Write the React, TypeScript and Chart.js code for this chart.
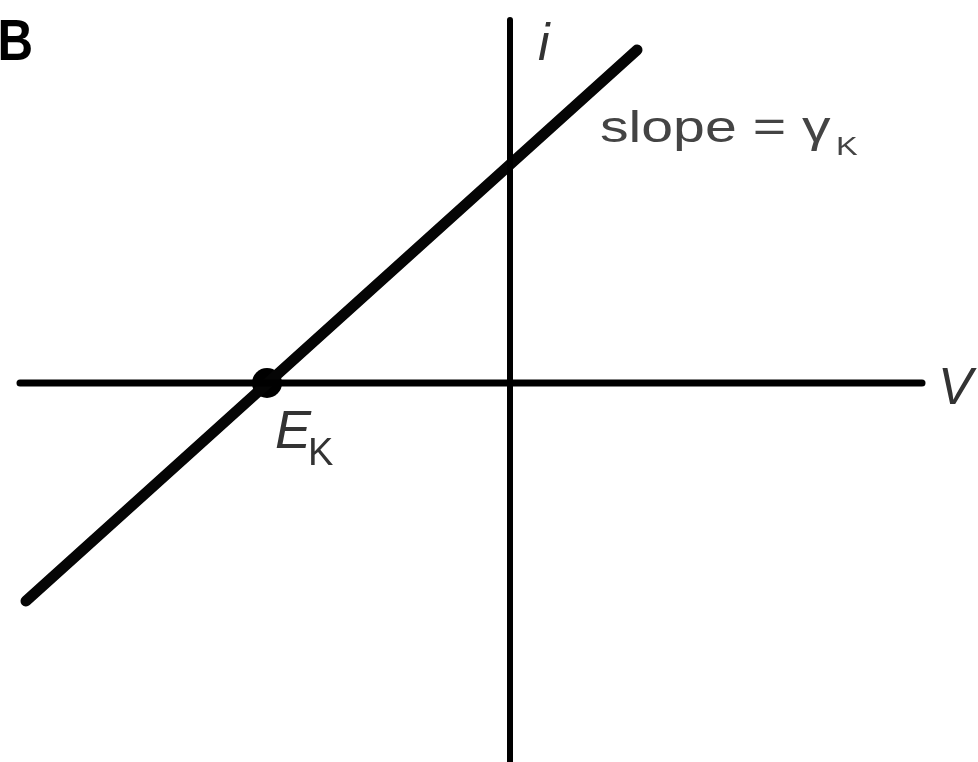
import React, { useEffect, useRef } from "react";
import { Chart, registerables } from "chart.js";

Chart.register(...registerables);

// Data coordinates: origin where the axes cross
const xRange = [-510, 468];
const yRange = [-379, 383];
const hAxisX = [-490, 412];
const vAxisY = [363, -385];
const lineX = [-484, 127];
const lineY = [-218, 333];
const reversalPotential = [-243, 0];

const labelPlugin = {
  id: "labels",
  afterDatasetsDraw(chart: any) {
    const { ctx, scales } = chart;
    const px = (v: number) => scales.x.getPixelForValue(v);
    const py = (v: number) => scales.y.getPixelForValue(v);
    const txt = (
      s: string,
      x: number,
      y: number,
      font: string,
      color: string,
      sx = 1,
      align: CanvasTextAlign = "left"
    ) => {
      ctx.save();
      ctx.translate(x, y);
      ctx.scale(sx, 1);
      ctx.font = font;
      ctx.fillStyle = color;
      ctx.textAlign = align;
      ctx.textBaseline = "alphabetic";
      ctx.fillText(s, 0, 0);
      ctx.restore();
    };
    // Panel letter
    txt("B", 33, 60, "bold 58px 'Liberation Sans', Arial, sans-serif", "#000", 0.85, "right");
    // i axis label
    txt("i", px(0) + 28, py(0) - 323, "italic 52px 'Liberation Sans', Arial, sans-serif", "#333");
    // V axis label
    txt("V", px(0) + 428, py(0) + 21, "italic 52px 'Liberation Sans', Arial, sans-serif", "#333");
    // slope label
    txt("slope = γ", px(0) + 90, py(0) - 241, "44px 'Liberation Sans', Arial, sans-serif", "#444", 1.3);
    txt("K", px(0) + 326, py(0) - 228, "25px 'Liberation Sans', Arial, sans-serif", "#444", 1.3);
    // E_K label
    const ex = px(reversalPotential[0]);
    txt("E", ex + 8, py(0) + 65, "italic 54px 'Liberation Sans', Arial, sans-serif", "#333");
    txt("K", ex + 41, py(0) + 82, "38px 'Liberation Sans', Arial, sans-serif", "#333");
  },
};

export default function App() {
  const ref = useRef<HTMLCanvasElement>(null);
  useEffect(() => {
    if (!ref.current) return;
    const chart = new Chart(ref.current, {
      type: "scatter",
      data: {
        datasets: [
          {
            data: hAxisX.map((x) => ({ x, y: 0 })),
            showLine: true,
            borderColor: "#000",
            borderWidth: 7,
            pointRadius: 0,
            borderCapStyle: "round",
            clip: false,
          } as any,
          {
            data: vAxisY.map((y) => ({ x: 0, y })),
            showLine: true,
            borderColor: "#000",
            borderWidth: 6,
            pointRadius: 0,
            borderCapStyle: "round",
            clip: false,
          } as any,
          {
            data: lineX.map((x, i) => ({ x, y: lineY[i] })),
            showLine: true,
            borderColor: "#050505",
            borderWidth: 11,
            pointRadius: 0,
            borderCapStyle: "round",
            clip: false,
          } as any,
          {
            data: [{ x: reversalPotential[0], y: reversalPotential[1] }],
            pointRadius: 15,
            pointBackgroundColor: "#000",
            pointBorderWidth: 0,
            showLine: false,
            clip: false,
          } as any,
        ],
      },
      options: {
        animation: false,
        responsive: false,
        layout: { padding: 0, autoPadding: false },
        plugins: { legend: { display: false }, tooltip: { enabled: false } },
        scales: {
          x: { type: "linear", min: xRange[0], max: xRange[1], display: false },
          y: { type: "linear", min: yRange[0], max: yRange[1], display: false },
        },
      },
      plugins: [labelPlugin],
    });
    return () => chart.destroy();
  }, []);
  return (
    <div style={{ position: "fixed", left: 0, top: 0, width: 978, height: 762, background: "#fff" }}>
      <canvas ref={ref} width={978} height={762} style={{ display: "block" }} />
    </div>
  );
}
